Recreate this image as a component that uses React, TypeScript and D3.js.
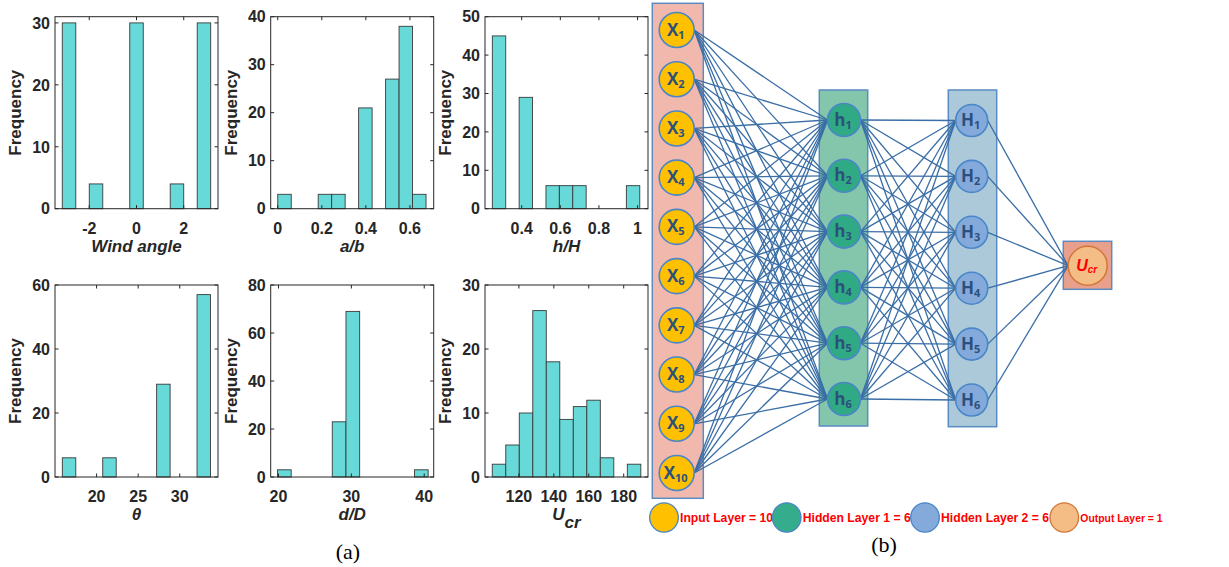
import React from "react";
import * as d3 from "d3";

// ---- histogram data (counts per bin) ----
const windCounts = [30, 0, 4, 0, 0, 30, 0, 0, 4, 0, 30];
const abCounts = [3, 0, 0, 3, 3, 0, 21, 0, 27, 38, 3];
const hHCounts = [45, 0, 29, 0, 6, 6, 6, 0, 0, 0, 6];
const thetaCounts = [6, 0, 0, 6, 0, 0, 0, 29, 0, 0, 57];
const dDCounts = [3, 0, 0, 0, 23, 69, 0, 0, 0, 0, 3];
const ucrCounts = [2, 5, 10, 26, 18, 9, 11, 12, 3, 0, 2];

// bin start / bin width for each variable
const windBins = [-3.1416, 0.5712];
const abBins = [0, 0.0612];
const hHBins = [0.248, 0.0694];
const thetaBins = [15.88, 1.62];
const dDBins = [19.86, 1.88];
const ucrBins = [104.76, 7.73];

const windTicks = [-2, 0, 2];
const abTicks = [0, 0.2, 0.4, 0.6];
const hHTicks = [0.4, 0.6, 0.8, 1];
const thetaTicks = [20, 25, 30];
const dDTicks = [20, 30, 40];
const ucrTicks = [120, 140, 160, 180];

// ---- network data ----
const inputSubs = ["1", "2", "3", "4", "5", "6", "7", "8", "9", "10"];
const hidden1Subs = ["1", "2", "3", "4", "5", "6"];
const hidden2Subs = ["1", "2", "3", "4", "5", "6"];
const legendItems = [
  { label: "Input Layer = 10", fill: "#ffc000", stroke: "#4a86c8", size: 12.2 },
  { label: "Hidden Layer 1 = 6", fill: "#35ad8c", stroke: "#4a86c8", size: 12.2 },
  { label: "Hidden Layer 2 = 6", fill: "#84aadb", stroke: "#4a86c8", size: 12.2 },
  { label: "Output Layer = 1", fill: "#f5bd86", stroke: "#d2773a", size: 10.4 },
];

const AX = "#262626";
const BAR = "#66d9d8";
const LINK = "#3a6ea6";
const SANS = "'Liberation Sans', Arial, sans-serif";

function Hist({ left, top, counts, bins, xDomain, yMax, yStep, xTicks, xLabel }) {
  const w = 163;
  const h = 192;
  const x = d3.scaleLinear().domain(xDomain).range([0, w]);
  const y = d3.scaleLinear().domain([0, yMax]).range([h, 0]);
  const yTicks = d3.range(0, yMax + 0.001, yStep);
  const tl = 3.5;
  return (
    <g transform={`translate(${left},${top})`}>
      {counts.map((c, i) =>
        c > 0 ? (
          <rect
            key={i}
            x={x(bins[0] + i * bins[1])}
            y={y(c)}
            width={x(bins[0] + (i + 1) * bins[1]) - x(bins[0] + i * bins[1])}
            height={h - y(c)}
            fill={BAR}
            stroke="#3a3a3a"
            strokeWidth={0.9}
          />
        ) : null
      )}
      <rect x={0} y={0} width={w} height={h} fill="none" stroke={AX} strokeWidth={1} />
      {yTicks.map((t) => (
        <g key={"y" + t}>
          <line x1={0} x2={tl} y1={y(t)} y2={y(t)} stroke={AX} />
          <line x1={w} x2={w - tl} y1={y(t)} y2={y(t)} stroke={AX} />
          <text
            x={-5}
            y={y(t)}
            dy="0.36em"
            textAnchor="end"
            fontFamily={SANS}
            fontWeight="bold"
            fontSize={16}
            fill={AX}
          >
            {t}
          </text>
        </g>
      ))}
      {xTicks.map((t) => (
        <g key={"x" + t}>
          <line x1={x(t)} x2={x(t)} y1={h} y2={h - tl} stroke={AX} />
          <line x1={x(t)} x2={x(t)} y1={0} y2={tl} stroke={AX} />
          <text
            x={x(t)}
            y={h + 25}
            textAnchor="middle"
            fontFamily={SANS}
            fontWeight="bold"
            fontSize={16}
            fill={AX}
          >
            {String(t)}
          </text>
        </g>
      ))}
      <text
        transform={`translate(-34,${h / 2}) rotate(-90)`}
        textAnchor="middle"
        fontFamily={SANS}
        fontWeight="bold"
        fontSize={17}
        fill={AX}
      >
        Frequency
      </text>
      <text
        x={w / 2}
        y={h + 43}
        textAnchor="middle"
        fontFamily={SANS}
        fontWeight="bold"
        fontStyle="italic"
        fontSize={17}
        fill={AX}
      >
        {xLabel}
      </text>
    </g>
  );
}

function Node({ cx, cy, r, fill, stroke, main, sub }) {
  return (
    <g>
      <circle cx={cx} cy={cy} r={r} fill={fill} stroke={stroke} strokeWidth={1.6} />
      <text
        x={cx - 1}
        y={cy + 5.5}
        textAnchor="middle"
        fontFamily="'Open Sans', sans-serif"
        fontWeight="bold"
        fontSize={17}
        fill="#2c507c"
      >
        {main}
        <tspan fontSize={11} dy={3}>
          {sub}
        </tspan>
      </text>
    </g>
  );
}

function Network() {
  const inX = 676.7, inR = 17.5;
  const h1X = 844, h1R = 16.5;
  const h2X = 971.7, h2R = 16;
  const outX = 1087.7, outY = 265.7, outR = 19.5;

  const yIn = d3.scaleLinear().domain([0, inputSubs.length - 1]).range([30, 473]);
  const yH1 = d3.scaleLinear().domain([0, hidden1Subs.length - 1]).range([120, 399]);
  const yH2 = d3.scaleLinear().domain([0, hidden2Subs.length - 1]).range([120.5, 400]);

  const links = [];
  inputSubs.forEach((_, i) =>
    hidden1Subs.forEach((_, j) =>
      links.push([inX + inR, yIn(i), h1X - h1R, yH1(j)])
    )
  );
  hidden1Subs.forEach((_, i) =>
    hidden2Subs.forEach((_, j) =>
      links.push([h1X + h1R, yH1(i), h2X - h2R, yH2(j)])
    )
  );
  hidden2Subs.forEach((_, i) => links.push([h2X + h2R, yH2(i), outX - outR, outY]));

  return (
    <g>
      <rect x={652.3} y={3.3} width={51} height={495} fill="#f1b9ad" stroke="#5a8cc4" strokeWidth={1.5} />
      <rect x={819.3} y={90} width={48.4} height={336} fill="#84c6ab" stroke="#5a8cc4" strokeWidth={1.5} />
      <rect x={948.3} y={90} width={48.4} height={336.7} fill="#abc9d8" stroke="#5a8cc4" strokeWidth={1.5} />
      <rect x={1063.3} y={241.3} width={48.4} height={48} fill="#e8a08c" stroke="#5a8cc4" strokeWidth={1.5} />
      {links.map((l, i) => (
        <line key={i} x1={l[0]} y1={l[1]} x2={l[2]} y2={l[3]} stroke={LINK} strokeWidth={1.3} />
      ))}
      {inputSubs.map((s, i) => (
        <Node key={"x" + s} cx={inX} cy={yIn(i)} r={inR} fill="#ffc000" stroke="#4a86c8" main="X" sub={s} />
      ))}
      {hidden1Subs.map((s, i) => (
        <Node key={"h" + s} cx={h1X} cy={yH1(i)} r={h1R} fill="#30a985" stroke="#4a86c8" main="h" sub={s} />
      ))}
      {hidden2Subs.map((s, i) => (
        <Node key={"H" + s} cx={h2X} cy={yH2(i)} r={h2R} fill="#84aadb" stroke="#4a86c8" main="H" sub={s} />
      ))}
      <circle cx={outX} cy={outY} r={outR} fill="#f5bd86" stroke="#d2773a" strokeWidth={1.5} />
      <text
        x={outX - 1}
        y={outY + 5}
        textAnchor="middle"
        fontFamily={SANS}
        fontWeight="bold"
        fontStyle="italic"
        fontSize={16}
        fill="#ff0000"
      >
        U<tspan fontSize={10} dy={2}>cr</tspan>
      </text>
    </g>
  );
}

function Legend() {
  const xs = [664, 786.7, 925, 1064.3];
  return (
    <g>
      {legendItems.map((d, i) => (
        <g key={d.label}>
          <ellipse cx={xs[i]} cy={517.5} rx={14.3} ry={14.7} fill={d.fill} stroke={d.stroke} strokeWidth={1.3} />
          <text
            x={xs[i] + 16}
            y={521.5}
            fontFamily={SANS}
            fontWeight="bold"
            fontSize={d.size}
            fill="#ff0000"
          >
            {d.label}
          </text>
        </g>
      ))}
    </g>
  );
}

export default function App() {
  return (
    <svg
      width={1229}
      height={567}
      style={{ position: "absolute", left: 0, top: 0, background: "#fff" }}
    >
      <Hist left={55} top={16.7} counts={windCounts} bins={windBins} xDomain={[-3.45, 3.45]} yMax={31} yStep={10} xTicks={windTicks} xLabel="Wind angle" />
      <Hist left={270.7} top={16.7} counts={abCounts} bins={abBins} xDomain={[-0.032, 0.708]} yMax={40} yStep={10} xTicks={abTicks} xLabel="a/b" />
      <Hist left={485} top={16.7} counts={hHCounts} bins={hHBins} xDomain={[0.21, 1.054]} yMax={50} yStep={10} xTicks={hHTicks} xLabel="h/H" />
      <Hist left={55} top={285} counts={thetaCounts} bins={thetaBins} xDomain={[15, 34.6]} yMax={60} yStep={20} xTicks={thetaTicks} xLabel="θ" />
      <Hist left={270.7} top={285} counts={dDCounts} bins={dDBins} xDomain={[18.93, 41.3]} yMax={80} yStep={20} xTicks={dDTicks} xLabel="d/D" />
      <Hist
        left={485}
        top={285}
        counts={ucrCounts}
        bins={ucrBins}
        xDomain={[100.6, 193.9]}
        yMax={30}
        yStep={10}
        xTicks={ucrTicks}
        xLabel={
          <>
            U<tspan dy={8}>cr</tspan>
          </>
        }
      />
      <text x={348} y={559} textAnchor="middle" fontFamily="'Liberation Serif', 'Times New Roman', serif" fontSize={22} fill="#000">
        (a)
      </text>
      <text x={884} y={552} textAnchor="middle" fontFamily="'Liberation Serif', 'Times New Roman', serif" fontSize={22} fill="#000">
        (b)
      </text>
      <Network />
      <Legend />
    </svg>
  );
}
